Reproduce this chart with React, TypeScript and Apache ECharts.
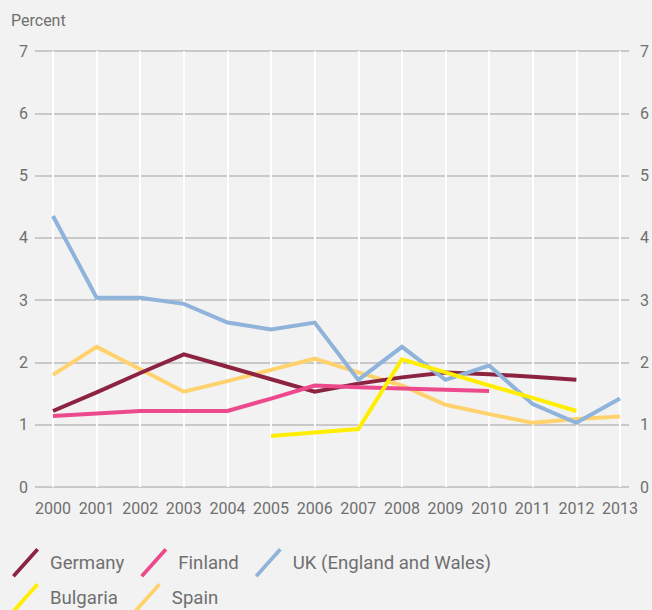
import React, { useEffect, useRef } from "react";
import * as echarts from "echarts";

const years = ["2000","2001","2002","2003","2004","2005","2006","2007","2008","2009","2010","2011","2012","2013"];
const yTicks = [0, 7, 1];
const germany = [1.22, 1.52, 1.83, 2.13, 1.93, 1.73, 1.53, 1.66, 1.76, 1.84, 1.81, 1.77, 1.72, null];
const finland = [1.14, 1.18, 1.22, 1.22, 1.22, 1.42, 1.63, 1.60, 1.58, 1.56, 1.54, null, null, null];
const uk = [4.35, 3.04, 3.04, 2.94, 2.64, 2.53, 2.64, 1.72, 2.25, 1.72, 1.95, 1.33, 1.03, 1.42];
const bulgaria = [null, null, null, null, null, 0.82, 0.875, 0.93, 2.05, 1.84, 1.63, 1.43, 1.22, null];
const spain = [1.80, 2.25, 1.89, 1.53, 1.70, 1.88, 2.06, 1.84, 1.63, 1.32, 1.17, 1.03, 1.09, 1.13];

const names = ["Germany", "Finland", "UK (England and Wales)", "Bulgaria", "Spain"];
const colors: Record<string, string> = {
  Germany: "#8C2441",
  Finland: "#EC4A8C",
  "UK (England and Wales)": "#8FB3DA",
  Bulgaria: "#FFEE00",
  Spain: "#FFD26E",
};
const seriesData: Record<string, (number | null)[]> = {
  Germany: germany,
  Finland: finland,
  "UK (England and Wales)": uk,
  Bulgaria: bulgaria,
  Spain: spain,
};
const drawOrder = ["Spain", "Germany", "Finland", "UK (England and Wales)", "Bulgaria"];

const FONT = "Roboto, 'Liberation Sans', sans-serif";
const TXT = "#6f6f6f";
const ICON = "path://M0,29L26,0L29,2.7L3,31.7Z";

export default function App() {
  const ref = useRef<HTMLDivElement>(null);
  useEffect(() => {
    if (!ref.current) return;
    const chart = echarts.init(ref.current, undefined, { renderer: "svg" });
    const [yMin, yMax, yInt] = yTicks;
    const legendCommon = {
      icon: ICON,
      itemWidth: 27,
      itemHeight: 30,
      itemGap: 16,
      left: 12,
      padding: 0,
      orient: "horizontal",
      textStyle: { fontSize: 18.6, color: TXT, fontFamily: FONT, padding: [4, 0, 0, 6] },
      selectedMode: false,
    };
    chart.setOption({
      animation: false,
      backgroundColor: "#F2F2F2",
      textStyle: { fontFamily: FONT },
      title: {
        text: "Percent",
        left: 11,
        top: 12,
        padding: 0,
        textStyle: { fontSize: 16, color: TXT, fontWeight: "normal", fontFamily: FONT },
      },
      legend: [
        { ...legendCommon, top: 548, data: names.slice(0, 3) },
        { ...legendCommon, top: 583, data: names.slice(3) },
      ],
      grid: [
        { left: 35, right: 22, top: 51, bottom: 123 },
        { left: 53, right: 32, top: 51, bottom: 123 },
      ],
      xAxis: [
        { type: "value", gridIndex: 0, show: false, min: 0, max: 1 },
        {
          type: "category",
          gridIndex: 1,
          data: years,
          boundaryGap: false,
          axisLine: { show: false },
          axisTick: { show: false },
          axisLabel: { color: TXT, fontSize: 16, margin: 13, fontFamily: FONT, interval: 0 },
          splitLine: { show: true, lineStyle: { color: "#FFFFFF", width: 2 } },
        },
      ],
      yAxis: [
        {
          type: "value",
          gridIndex: 0,
          min: yMin,
          max: yMax,
          interval: yInt,
          position: "left",
          axisLine: { show: false },
          axisTick: { show: false },
          axisLabel: { color: TXT, fontSize: 16, margin: 7, fontFamily: FONT },
          splitLine: { show: true, lineStyle: { color: "#C9C9C9", width: 2 } },
        },
        {
          type: "value",
          gridIndex: 0,
          min: yMin,
          max: yMax,
          interval: yInt,
          position: "right",
          axisLine: { show: false },
          axisTick: { show: false },
          axisLabel: { color: TXT, fontSize: 16, margin: 11, fontFamily: FONT },
          splitLine: { show: false },
        },
        {
          type: "value",
          gridIndex: 1,
          min: yMin,
          max: yMax,
          interval: yInt,
          show: false,
          splitLine: { show: false },
        },
      ],
      series: drawOrder.map((n) => ({
        name: n,
        type: "line",
        xAxisIndex: 1,
        yAxisIndex: 2,
        data: seriesData[n],
        color: colors[n],
        itemStyle: { color: colors[n] },
        lineStyle: { color: colors[n], width: 4, join: "miter" },
        symbol: "none",
        showSymbol: false,
        connectNulls: false,
      })),
    });
    return () => chart.dispose();
  }, []);
  return (
    <div
      ref={ref}
      style={{ position: "fixed", left: 0, top: 0, width: 652, height: 610 }}
    />
  );
}
